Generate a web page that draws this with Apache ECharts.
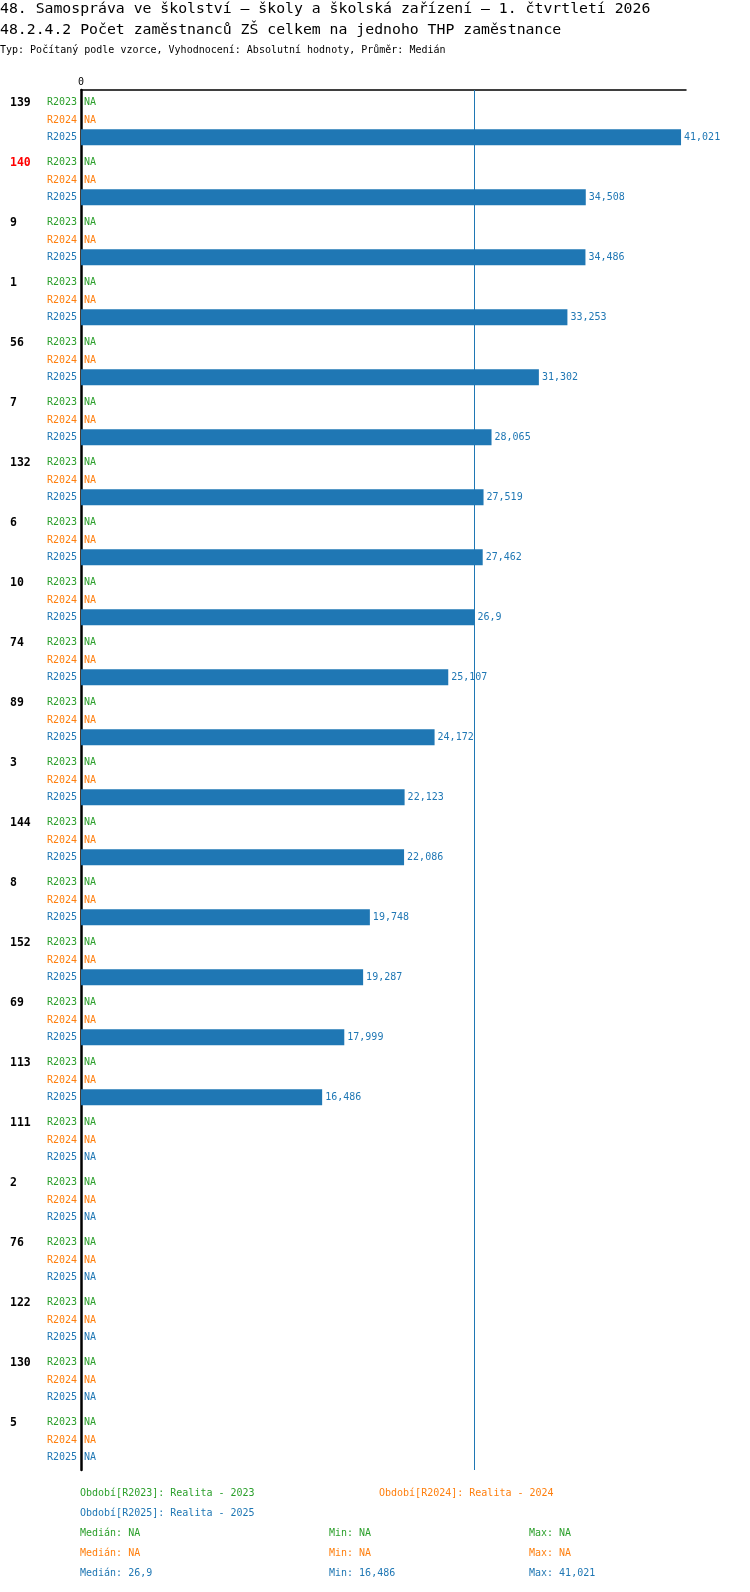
<!DOCTYPE html>
<html lang="cs">
<head>
    <meta charset="UTF-8">
    <title>48.2.4.2</title>
    <script src="https://cdn.jsdelivr.net/npm/echarts@6/dist/echarts.min.js" type="text/javascript"></script>
    <style>
        html, body { margin: 0; padding: 0; background: #fff; }
    </style>
</head>
<body>
<div id="main" style="width: 750px; height: 1592px;"></div>
<script>
    // data
    var categories = ['139', '140', '9', '1', '56', '7', '132', '6', '10', '74', '89', '3', '144', '8', '152', '69', '113', '111', '2', '76', '122', '130', '5'];
    var highlighted = ['140'];
    var periods = ['R2023', 'R2024', 'R2025'];
    var periodNames = ['Realita - 2023', 'Realita - 2024', 'Realita - 2025'];
    var r2023 = [null, null, null, null, null, null, null, null, null, null, null, null, null, null, null, null, null, null, null, null, null, null, null];
    var r2024 = [null, null, null, null, null, null, null, null, null, null, null, null, null, null, null, null, null, null, null, null, null, null, null];
    var r2025 = [41.021, 34.508, 34.486, 33.253, 31.302, 28.065, 27.519, 27.462, 26.9, 25.107, 24.172, 22.123, 22.086, 19.748, 19.287, 17.999, 16.486, null, null, null, null, null, null];
    var xTicks = [0];

    var colors = ['#2ca02c', '#ff7f0e', '#1f77b4'];
    var mono = '"DejaVu Sans Mono", "Liberation Mono", monospace';
    var barW = 16, barStep = 17.3;
    var seriesData = [r2023, r2024, r2025];

    function fmt(v) {
        return v == null ? 'NA' : String(v).replace('.', ',');
    }
    function stats(arr) {
        var v = arr.filter(function (d) { return d != null; }).sort(function (a, b) { return a - b; });
        if (!v.length) return {med: null, min: null, max: null};
        var m = v.length % 2 ? v[(v.length - 1) / 2] : (v[v.length / 2 - 1] + v[v.length / 2]) / 2;
        return {med: m, min: v[0], max: v[v.length - 1]};
    }

    var myChart = echarts.init(document.getElementById('main'));

    var graphics = [
        {type: 'text', left: 0, top: 2, style: {text: '48. Samospráva ve školství – školy a školská zařízení – 1. čtvrtletí 2026', font: '14.8px ' + mono, fill: '#000'}},
        {type: 'text', left: 0, top: 23, style: {text: '48.2.4.2 Počet zaměstnanců ZŠ celkem na jednoho THP zaměstnance', font: '14.8px ' + mono, fill: '#000'}},
        {type: 'text', left: 0, top: 45, style: {text: 'Typ: Počítaný podle vzorce, Vyhodnocení: Absolutní hodnoty, Průměr: Medián', font: '10px ' + mono, fill: '#000'}},
        {type: 'text', left: 80, top: 1488, style: {text: 'Období[' + periods[0] + ']: ' + periodNames[0], font: '10px ' + mono, fill: colors[0]}},
        {type: 'text', left: 379, top: 1488, style: {text: 'Období[' + periods[1] + ']: ' + periodNames[1], font: '10px ' + mono, fill: colors[1]}},
        {type: 'text', left: 80, top: 1508, style: {text: 'Období[' + periods[2] + ']: ' + periodNames[2], font: '10px ' + mono, fill: colors[2]}}
    ];
    seriesData.forEach(function (arr, k) {
        var s = stats(arr);
        var y = 1528 + k * 20;
        graphics.push({type: 'text', left: 80, top: y, style: {text: 'Medián: ' + fmt(s.med), font: '10px ' + mono, fill: colors[k]}});
        graphics.push({type: 'text', left: 329, top: y, style: {text: 'Min: ' + fmt(s.min), font: '10px ' + mono, fill: colors[k]}});
        graphics.push({type: 'text', left: 529, top: y, style: {text: 'Max: ' + fmt(s.max), font: '10px ' + mono, fill: colors[k]}});
    });

    var median2025 = stats(r2025).med;

    var barSeries = periods.map(function (p, k) {
        var s = {
            name: p,
            type: 'bar',
            data: seriesData[k],
            barWidth: barW,
            barGap: '8%',
            itemStyle: {color: colors[k]},
            silent: true,
            label: {
                show: true,
                position: 'right',
                distance: 3,
                color: colors[k],
                fontFamily: mono,
                fontSize: 10,
                formatter: function (p) { return fmt(p.value); }
            }
        };
        if (k === 2) {
            s.markLine = {
                silent: true,
                symbol: 'none',
                label: {show: false},
                lineStyle: {color: colors[2], width: 1, type: 'solid'},
                data: [{xAxis: median2025}]
            };
        }
        return s;
    });

    var textSeries = {
        type: 'custom',
        silent: true,
        encode: {x: 0, y: 1},
        data: categories.map(function (c, i) { return [0, i]; }),
        renderItem: function (params, api) {
            var i = api.value(1);
            var pt = api.coord([0, i]);
            var children = [];
            children.push({
                type: 'text',
                style: {
                    text: categories[i], x: 10, y: pt[1] - barStep,
                    align: 'left', verticalAlign: 'middle',
                    font: 'bold 11.5px ' + mono,
                    fill: highlighted.indexOf(categories[i]) >= 0 ? '#ff0000' : '#000'
                }
            });
            periods.forEach(function (p, k) {
                var y = pt[1] + (k - 1) * barStep;
                children.push({
                    type: 'text',
                    style: {text: p, x: pt[0] - 4, y: y, align: 'right', verticalAlign: 'middle', font: '10px ' + mono, fill: colors[k]}
                });
                if (seriesData[k][i] == null) {
                    children.push({
                        type: 'text',
                        style: {text: 'NA', x: pt[0] + 3, y: y, align: 'left', verticalAlign: 'middle', font: '10px ' + mono, fill: colors[k]}
                    });
                }
            });
            return {type: 'group', children: children};
        },
        z: 5
    };

    var xMax = 41.36;
    var option = {
        animation: false,
        backgroundColor: '#fff',
        graphic: graphics,
        grid: {left: 81, top: 90, width: 605, height: 1380, containLabel: false},
        xAxis: {
            type: 'value',
            position: 'top',
            min: 0,
            max: xMax,
            interval: xMax,
            axisLine: {show: true, lineStyle: {color: '#000', width: 1.5}},
            axisTick: {show: false},
            splitLine: {show: false},
            axisLabel: {
                show: true,
                showMaxLabel: false,
                margin: 3,
                color: '#000',
                fontFamily: mono,
                fontSize: 10,
                formatter: function (v) { return xTicks.indexOf(v) >= 0 ? String(v) : ''; }
            }
        },
        yAxis: {
            type: 'category',
            inverse: true,
            data: categories,
            axisLine: {show: true, onZero: false, lineStyle: {color: '#000', width: 2.5}},
            axisTick: {show: false},
            axisLabel: {show: false},
            splitLine: {show: false}
        },
        series: barSeries.concat([textSeries])
    };
    myChart.setOption(option);
</script>
</body>
</html>
